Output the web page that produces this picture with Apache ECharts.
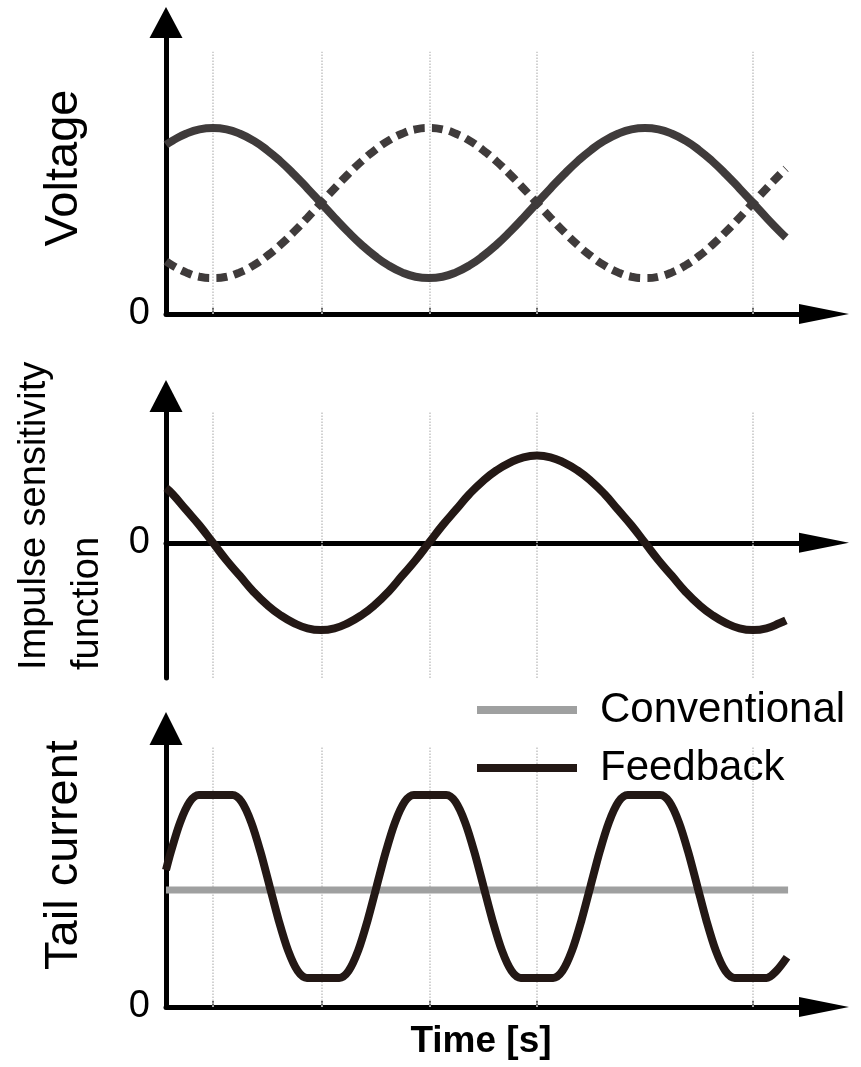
<!DOCTYPE html>
<html>
<head>
<meta charset="utf-8">
<script src="https://cdn.jsdelivr.net/npm/echarts@6/dist/echarts.min.js"></script>
<style>
html,body{margin:0;padding:0;background:#fff;}
#chart{width:861px;height:1067px;}
</style>
</head>
<body>
<div id="chart"></div>
<script>
// ---- data (arbitrary units) ----
const gridTimes = [0.435, 1.44, 2.44, 3.435, 5.435];

const voltageTime = [0,0.06,0.185,0.31,0.435,0.56,0.685,0.81,0.935,1.06,1.185,1.31,1.435,1.56,1.685,1.81,1.935,2.06,2.185,2.31,2.435,2.56,2.685,2.81,2.935,3.06,3.185,3.31,3.435,3.56,3.685,3.81,3.935,4.06,4.185,4.31,4.435,4.56,4.685,4.81,4.935,5.06,5.185,5.31,5.435,5.56,5.685,5.74];
const voltageSolid = [6.13,6.28,6.53,6.69,6.74,6.69,6.53,6.28,5.94,5.53,5.06,4.55,4.02,3.49,2.98,2.51,2.10,1.76,1.51,1.35,1.30,1.35,1.51,1.76,2.10,2.51,2.98,3.49,4.02,4.55,5.06,5.53,5.94,6.28,6.53,6.69,6.74,6.69,6.53,6.28,5.94,5.53,5.06,4.55,4.02,3.49,2.98,2.77];
const voltageDashed = [1.91,1.76,1.51,1.35,1.30,1.35,1.51,1.76,2.10,2.51,2.98,3.49,4.02,4.55,5.06,5.53,5.94,6.28,6.53,6.69,6.74,6.69,6.53,6.28,5.94,5.53,5.06,4.55,4.02,3.49,2.98,2.51,2.10,1.76,1.51,1.35,1.30,1.35,1.51,1.76,2.10,2.51,2.98,3.49,4.02,4.55,5.06,5.27];

const isfTime = voltageTime;
const isfValues = [0.63,0.56,0.38,0.20,0,-0.20,-0.38,-0.56,-0.71,-0.83,-0.92,-0.98,-1.00,-0.98,-0.92,-0.83,-0.71,-0.56,-0.38,-0.20,0,0.20,0.38,0.56,0.71,0.83,0.92,0.98,1.00,0.98,0.92,0.83,0.71,0.56,0.38,0.20,0,-0.20,-0.38,-0.56,-0.71,-0.83,-0.92,-0.98,-1.00,-0.98,-0.92,-0.89];

const tailTime = [0,0.045,0.13,0.22,0.305,0.615,0.70,0.79,0.875,0.96,1.045,1.13,1.22,1.305,1.605,1.69,1.78,1.865,1.95,2.035,2.12,2.21,2.295,2.595,2.68,2.77,2.855,2.94,3.025,3.11,3.20,3.285,3.585,3.67,3.76,3.845,3.93,4.015,4.10,4.19,4.275,4.575,4.66,4.75,4.835,4.92,5.005,5.09,5.18,5.265,5.56,5.65,5.75];
const tailFeedback = [5.23,5.92,7.04,7.83,8.09,8.09,7.83,7.04,5.92,4.60,3.28,2.16,1.37,1.11,1.11,1.37,2.16,3.28,4.60,5.92,7.04,7.83,8.09,8.09,7.83,7.04,5.92,4.60,3.28,2.16,1.37,1.11,1.11,1.37,2.16,3.28,4.60,5.92,7.04,7.83,8.09,8.09,7.83,7.04,5.92,4.60,3.28,2.16,1.37,1.11,1.11,1.37,1.90];
const conventionalTime = [0, 5.76];
const conventionalLevel = [4.47, 4.47];

const yLabels = ['Voltage', 'Impulse sensitivity\nfunction', 'Tail current'];
const xLabel = 'Time [s]';
const legendNames = ['Conventional', 'Feedback'];

// ---- helpers ----
const FONT = "'Liberation Sans', Arial, Helvetica, sans-serif";
const zip = (xs, ys) => xs.map((x, i) => [x, ys[i]]);
const gridMarks = (lo, hi) => ({
  silent: true, z: 1, symbol: ['none', 'none'], animation: false,
  label: {show: false},
  lineStyle: {type: 'dotted', color: '#c4c4c4', width: 1.5},
  data: gridTimes.map(t => [{coord: [t, lo]}, {coord: [t, hi]}])
});

const axisLineX = {show: true, onZero: true, symbol: ['none', 'triangle'], symbolSize: [20, 50], symbolOffset: [0, 10], lineStyle: {color: '#000', width: 5}};
const axisLineY = (h) => ({show: true, symbol: ['none', 'triangle'], symbolSize: [33, h], symbolOffset: [0, h / 2], lineStyle: {color: '#000', width: 5}});

function xAxisFor(gi, ticks, name) {
  return {
    type: 'value', gridIndex: gi, min: 0, max: 6,
    axisLine: axisLineX,
    axisTick: {show: ticks, inside: true, length: 6, customValues: gridTimes, lineStyle: {color: '#666', width: 2}},
    axisLabel: {show: false},
    splitLine: {show: false},
    name: name || '', nameLocation: 'middle', nameGap: 16,
    nameTextStyle: {fontFamily: FONT, fontSize: 37, fontWeight: 'bold', color: '#000', padding: [0, 18, 0, 0]}
  };
}
function yAxisFor(gi, min, max, h, name, pad) {
  return {
    type: 'value', gridIndex: gi, min: min, max: max,
    axisLine: axisLineY(h),
    axisTick: {show: false},
    axisLabel: {show: true, customValues: [0], formatter: v => String(v), margin: 16, fontFamily: FONT, fontSize: 38, color: '#000'},
    splitLine: {show: false},
    name: name || '', nameLocation: 'middle', nameRotate: 90, nameGap: 78,
    nameTextStyle: {fontFamily: FONT, fontSize: 47, color: '#000', padding: [0, 0, 0, pad || 0]}
  };
}

const chart = echarts.init(document.getElementById('chart'), null, {renderer: 'canvas'});
chart.setOption({
  animation: false,
  backgroundColor: '#fff',
  textStyle: {fontFamily: FONT},
  grid: [
    {left: 166, top: 38, width: 648, height: 276, containLabel: false, outerBoundsMode: 'none'},
    {left: 166, top: 412, width: 648, height: 266, containLabel: false, outerBoundsMode: 'none'},
    {left: 166, top: 745, width: 648, height: 262, containLabel: false, outerBoundsMode: 'none'}
  ],
  xAxis: [xAxisFor(0, true), xAxisFor(1, false), xAxisFor(2, true, xLabel)],
  yAxis: [
    yAxisFor(0, 0, 10, 31, yLabels[0], 16),
    yAxisFor(1, -1.55, 1.5, 32, ''),
    yAxisFor(2, 0, 10, 33, yLabels[2], 42)
  ],
  legend: {
    orient: 'vertical', left: 477, top: 681, padding: 0,
    itemWidth: 100, itemHeight: 8, itemGap: 0, icon: 'rect',
    selectedMode: false,
    data: legendNames,
    textStyle: {fontFamily: FONT, fontSize: 42, color: '#000', lineHeight: 50, padding: [0, 0, 8, 18]}
  },
  graphic: [{
    type: 'text', x: 8, y: 670, rotation: Math.PI / 2, silent: true,
    style: {text: yLabels[1], font: '38px ' + FONT, fill: '#000', align: 'left', verticalAlign: 'top', textAlign: 'left', textVerticalAlign: 'top', lineHeight: 53}
  }],
  series: [
    {name: 'Voltage A', type: 'line', xAxisIndex: 0, yAxisIndex: 0, data: zip(voltageTime, voltageSolid),
     smooth: 0.5, showSymbol: false, lineStyle: {color: '#3f3b3b', width: 8}, markLine: gridMarks(0, 9.5)},
    {name: 'Voltage B', type: 'line', xAxisIndex: 0, yAxisIndex: 0, data: zip(voltageTime, voltageDashed),
     smooth: 0.5, showSymbol: false, lineStyle: {color: '#3f3b3b', width: 8, type: [11, 7]}},
    {name: 'ISF', type: 'line', xAxisIndex: 1, yAxisIndex: 1, data: zip(isfTime, isfValues),
     smooth: 0.5, showSymbol: false, lineStyle: {color: '#231815', width: 8}, markLine: gridMarks(-1.55, 1.5)},
    {name: 'Conventional', type: 'line', xAxisIndex: 2, yAxisIndex: 2, data: zip(conventionalTime, conventionalLevel),
     showSymbol: false, itemStyle: {color: '#9fa0a0'}, lineStyle: {color: '#9fa0a0', width: 7}, markLine: gridMarks(0, 9.9)},
    {name: 'Feedback', type: 'line', xAxisIndex: 2, yAxisIndex: 2, data: zip(tailTime, tailFeedback),
     smooth: 0.3, showSymbol: false, itemStyle: {color: '#231815'}, lineStyle: {color: '#231815', width: 8}}
  ]
});
</script>
</body>
</html>
